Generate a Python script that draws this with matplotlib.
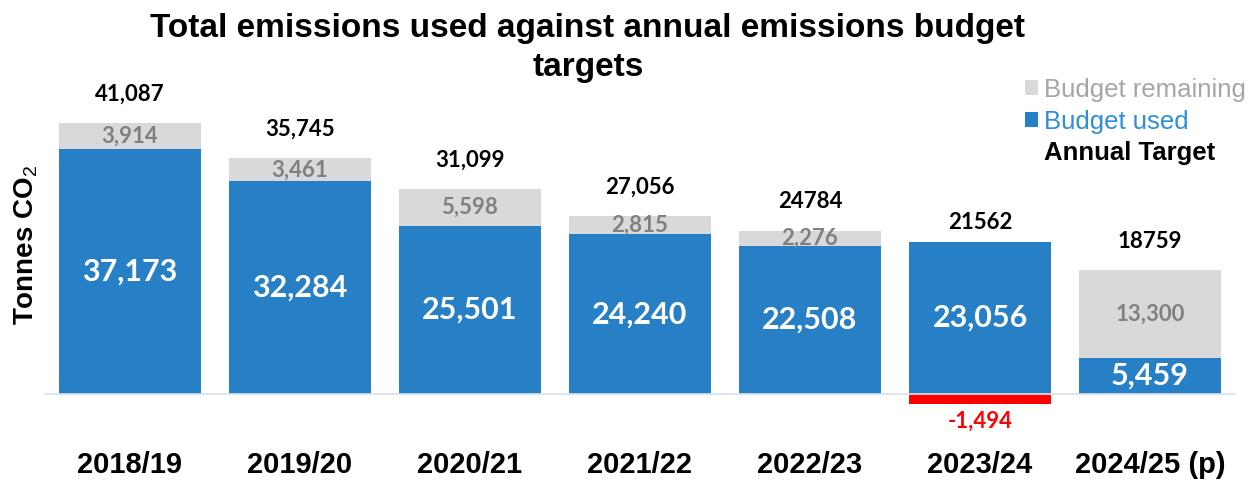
import matplotlib.pyplot as plt
import numpy as np
from matplotlib.patches import Patch
from matplotlib.lines import Line2D

# Emissions used vs annual budget targets

categories = ['2018/19', '2019/20', '2020/21', '2021/22', '2022/23', '2023/24', '2024/25 (p)']
used = [37173, 32284, 25501, 24240, 22508, 23056, 5459]
remaining = [3914, 3461, 5598, 2815, 2276, 0, 13300]
overspend = [0, 0, 0, 0, 0, -1494, 0]
target = [41087, 35745, 31099, 27056, 24784, 21562, 18759]
target_labels = ['41,087', '35,745', '31,099', '27,056', '24784', '21562', '18759']

blue = '#2780C6'
grey = '#D9D9D9'
red = '#FF0000'

plt.rcParams['font.family'] = 'Liberation Sans'
plt.rcParams['mathtext.fontset'] = 'custom'
plt.rcParams['mathtext.rm'] = 'Liberation Sans'
num_font = 'Lato'

fig = plt.figure(figsize=(12.55, 4.8), dpi=100)
ax = fig.add_axes([45 / 1255, 60 / 480, 1190 / 1255, 350 / 480])

x = np.arange(len(categories))
w = 0.84
ax.bar(x, used, width=w, color=blue)
ax.bar(x, remaining, width=w, bottom=used, color=grey)
ax.bar(x, overspend, width=w, color=red)

# px per data unit ~0.00659 -> ylim chosen so baseline sits at the right height
ax.set_ylim(-3946, 49173)
ax.set_xlim(-0.5, 6.5)

for s in ['top', 'right', 'left']:
    ax.spines[s].set_visible(False)
ax.spines['bottom'].set_position(('data', 0))
ax.spines['bottom'].set_color('#D6E3EF')
ax.spines['bottom'].set_linewidth(1.2)
ax.set_yticks([])
ax.set_xticks(x)
ax.set_xticklabels(categories, fontsize=21, fontweight='bold')
ax.tick_params(axis='x', length=0, pad=41)

for i in range(len(categories)):
    ax.text(x[i], used[i] / 2, f'{used[i]:,}', ha='center', va='center',
            color='white', fontsize=22, fontweight='bold', family=num_font)
    if remaining[i] > 0:
        ax.text(x[i], used[i] + remaining[i] / 2, f'{remaining[i]:,}', ha='center',
                va='center', color='#808080', fontsize=16, fontweight='bold', family=num_font)
    if overspend[i] < 0:
        ax.annotate(f'{overspend[i]:,}', (x[i], overspend[i]), xytext=(0, -7),
                    textcoords='offset pixels', ha='center', va='top', color=red,
                    fontsize=16, fontweight='bold', family=num_font)
    ax.annotate(target_labels[i], (x[i], target[i]), xytext=(0, 29),
                textcoords='offset pixels', ha='center', va='center', color='black',
                fontsize=16, fontweight='bold', family=num_font)

ax.set_ylabel('Tonnes CO$_2$', fontsize=20, fontweight='bold')
ax.yaxis.set_label_coords(-0.004, 0.5)

fig.text(588 / 1255, 1 - 48 / 480, 'Total emissions used against annual emissions budget\ntargets',
         ha='center', va='center', fontsize=24, fontweight='bold', linespacing=1.32)

handles = [Patch(facecolor=grey), Patch(facecolor=blue), Line2D([], [], linestyle='none')]
leg = ax.legend(handles, ['Budget remaining', 'Budget used', 'Annual Target'],
                loc='upper right', bbox_to_anchor=(1259 / 1255, 1 - 65 / 480),
                bbox_transform=fig.transFigure, frameon=False, fontsize=18.5,
                handlelength=0.5, handleheight=0.5, handletextpad=0.25,
                labelspacing=0.3, borderpad=0,
                labelcolor=['#A6A6A6', '#2E8FD6', 'black'])
leg.get_texts()[2].set_fontweight('bold')

fig.savefig('out.png', dpi=100)
